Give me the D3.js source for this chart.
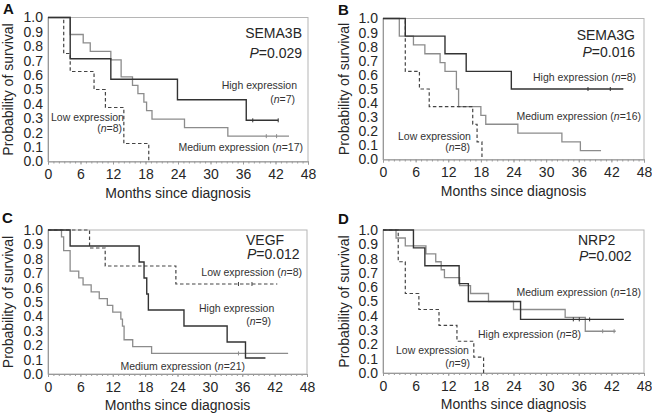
<!DOCTYPE html>
<html><head><meta charset="utf-8">
<script src="https://cdn.jsdelivr.net/npm/d3@7"></script>
<style>
body{margin:0;background:#fff;}
svg{font-family:"Liberation Sans",Arial,Helvetica,sans-serif;}
</style></head>
<body>
<script>
// ---- data ----
const monthTicks = [0,6,12,18,24,30,36,42,48];
const survTicks = [0,0.1,0.2,0.3,0.4,0.5,0.6,0.7,0.8,0.9,1.0];

// Panel A: SEMA3B
const aHighT = [0,4.1,11.6,23.9,36.6], aHighS = [1,0.714,0.571,0.429,0.286], aHighEnd = 42.5, aHighCens = [37.8,42.5];
const aMedT = [0,4.1,6.5,7.8,11.6,13.5,15.6,16.6,17.7,18.2,19.2,25.2,33.2], aMedS = [1,0.882,0.824,0.765,0.706,0.588,0.529,0.471,0.412,0.353,0.294,0.235,0.176], aMedEnd = 44.5, aMedCens = [40.3,42.2];
const aLowT = [0,2.9,4.1,8.5,10.6,14.0,18.6], aLowS = [1,0.75,0.625,0.5,0.375,0.125,0], aLowEnd = 18.6, aLowCens = [];

// Panel B: SEMA3G
const bHighT = [0,4.1,11.4,15.3,23.6], bHighS = [1,0.875,0.75,0.625,0.5], bHighEnd = 44.2, bHighCens = [37.7,41.8];
const bMedT = [0,3.0,5.6,7.7,10.5,11.4,13.5,13.9,18.0,18.9,24.8,32.9,36.3], bMedS = [1,0.875,0.8125,0.75,0.6875,0.625,0.5,0.375,0.3125,0.25,0.1875,0.125,0.0625], bMedEnd = 40.1, bMedCens = [];
const bLowT = [0,4.1,6.7,8.5,16.5,17.3,18.2], bLowS = [1,0.625,0.5,0.375,0.25,0.125,0], bLowEnd = 18.2, bLowCens = [];

// Panel C: VEGF
const cHighT = [0,4.1,16.9,17.8,18.3,18.6,25.2,33.2,36.6], cHighS = [1,0.889,0.778,0.667,0.556,0.444,0.333,0.222,0.111], cHighEnd = 40.3, cHighCens = [];
const cMedT = [0,2.5,2.9,4.1,5.7,6.5,8.0,9.5,11.0,12.0,13.5,13.8,14.1,15.7,19.2], cMedS = [1,0.952,0.857,0.714,0.667,0.619,0.571,0.524,0.476,0.429,0.381,0.333,0.238,0.190,0.143], cMedEnd = 44.5, cMedCens = [35.3,36.6];
const cLowT = [0,7.7,10.6,23.7], cLowS = [1,0.875,0.75,0.625], cLowEnd = 42.5, cLowCens = [35.3,37.8];

// Panel D: NRP2
const dHighT = [0,5.6,7.7,14.0,15.7,25.3], dHighS = [1,0.875,0.75,0.625,0.5,0.375], dHighEnd = 44.3, dHighCens = [35.0,36.1,38.0];
const dMedT = [0,2.4,4.1,7.9,9.7,10.7,11.3,14.1,16.1,19.4,24.0,33.5,37.2], dMedS = [1,0.944,0.889,0.833,0.778,0.722,0.667,0.611,0.556,0.5,0.444,0.389,0.292], dMedEnd = 42.8, dMedCens = [40.4,42.5];
const dLowT = [0,2.8,4.1,6.6,10.3,13.6,16.7,18.5], dLowS = [1,0.778,0.556,0.444,0.333,0.222,0.111,0], dLowEnd = 18.5, dLowCens = [];

// ---- layout / styles ----
const W = 652, H = 418;
const styles = {
  high: {stroke:"#333", dash:null, width:1.4},
  med:  {stroke:"#8c8c8c", dash:null, width:1.3},
  low:  {stroke:"#444", dash:"3.5,2.5", width:1.2}
};
function ser(kind,T,S,end,cens){return {kind,T,S,end,cens};}

const panels = [
 {letter:"A", lx:3, ly:14, x0:48, x1:308, yT:17.5, yB:161.5, ytx:8,
  series:[ser("med",aMedT,aMedS,aMedEnd,aMedCens), ser("low",aLowT,aLowS,aLowEnd,aLowCens), ser("high",aHighT,aHighS,aHighEnd,aHighCens)],
  labels:[
   {parts:[["SEMA3B"]], x:302, y:38, a:"end", big:true},
   {parts:[["P",1],["=0.029"]], x:302, y:58, a:"end", big:true},
   {parts:[["High expression"]], x:297, y:89, a:"end"},
   {parts:[["("],["n",1],["=7)"]], x:295, y:103, a:"end"},
   {parts:[["Low expression"]], x:51, y:121, a:"start"},
   {parts:[["("],["n",1],["=8)"]], x:122, y:132, a:"end"},
   {parts:[["Medium expression ("],["n",1],["=17)"]], x:303, y:151, a:"end"}
  ]},
 {letter:"B", lx:338, ly:15, x0:383, x1:644, yT:18.5, yB:159.5, ytx:344,
  series:[ser("med",bMedT,bMedS,bMedEnd,bMedCens), ser("low",bLowT,bLowS,bLowEnd,bLowCens), ser("high",bHighT,bHighS,bHighEnd,bHighCens)],
  labels:[
   {parts:[["SEMA3G"]], x:635, y:40, a:"end", big:true},
   {parts:[["P",1],["=0.016"]], x:635, y:57, a:"end", big:true},
   {parts:[["High expression ("],["n",1],["=8)"]], x:636, y:81, a:"end"},
   {parts:[["Medium expression ("],["n",1],["=16)"]], x:641, y:120, a:"end"},
   {parts:[["Low expression"]], x:398, y:140, a:"start"},
   {parts:[["("],["n",1],["=8)"]], x:470, y:151, a:"end"}
  ]},
 {letter:"C", lx:2, ly:223, x0:48, x1:307, yT:230, yB:374, ytx:8,
  series:[ser("med",cMedT,cMedS,cMedEnd,cMedCens), ser("low",cLowT,cLowS,cLowEnd,cLowCens), ser("high",cHighT,cHighS,cHighEnd,cHighCens)],
  labels:[
   {parts:[["VEGF"]], x:246, y:245, a:"start", big:true},
   {parts:[["P",1],["=0.012"]], x:247, y:259, a:"start", big:true},
   {parts:[["Low expression ("],["n",1],["=8)"]], x:302, y:276, a:"end"},
   {parts:[["High expression"]], x:199, y:312, a:"start"},
   {parts:[["("],["n",1],["=9)"]], x:271, y:325, a:"end"},
   {parts:[["Medium expression ("],["n",1],["=21)"]], x:245, y:370, a:"end"}
  ]},
 {letter:"D", lx:338, ly:224, x0:383, x1:644, yT:230, yB:373, ytx:344,
  series:[ser("med",dMedT,dMedS,dMedEnd,dMedCens), ser("low",dLowT,dLowS,dLowEnd,dLowCens), ser("high",dHighT,dHighS,dHighEnd,dHighCens)],
  labels:[
   {parts:[["NRP2"]], x:578, y:245, a:"start", big:true},
   {parts:[["P",1],["=0.002"]], x:579, y:261, a:"start", big:true},
   {parts:[["Medium expression ("],["n",1],["=18)"]], x:641, y:296, a:"end"},
   {parts:[["High expression ("],["n",1],["=8)"]], x:581, y:338, a:"end"},
   {parts:[["Low expression"]], x:396, y:354, a:"start"},
   {parts:[["("],["n",1],["=9)"]], x:470, y:367, a:"end"}
  ]}
];

const svg = d3.select("body").append("svg").attr("width",W).attr("height",H);
const TXT = "#262626";

panels.forEach(p=>{
  const g = svg.append("g");
  const x = d3.scaleLinear().domain([0,48]).range([p.x0,p.x1]);
  const y = d3.scaleLinear().domain([0,1]).range([p.yB,p.yT]);

  // frame
  g.append("rect").attr("x",p.x0).attr("y",p.yT).attr("width",p.x1-p.x0).attr("height",p.yB-p.yT)
    .attr("fill","none").attr("stroke","#b5b5b5").attr("stroke-width",1);

  // minor ticks on bottom axis
  const xm = d3.axisBottom(x).tickValues(d3.range(0,49,1)).tickSize(2).tickFormat("");
  const gm = g.append("g").attr("transform",`translate(0,${p.yB})`).call(xm);
  gm.select(".domain").remove();
  gm.selectAll("text").remove();
  gm.selectAll("line").attr("stroke","#999");

  const xa = d3.axisBottom(x).tickValues(monthTicks).tickSize(3).tickPadding(5).tickFormat(d3.format("d"));
  const gx = g.append("g").attr("transform",`translate(0,${p.yB})`).call(xa);
  gx.select(".domain").attr("stroke","#999");
  gx.selectAll("line").attr("stroke","#999");
  gx.selectAll("text").attr("font-size",14).attr("fill",TXT).attr("font-family","Liberation Sans, Arial, sans-serif");

  const ya = d3.axisLeft(y).tickValues(survTicks).tickSize(0).tickPadding(5).tickFormat(d3.format(".1f"));
  const gy = g.append("g").attr("transform",`translate(${p.x0},0)`).call(ya);
  gy.select(".domain").attr("stroke","#999");
  gy.selectAll("text").attr("font-size",14).attr("fill",TXT).attr("font-family","Liberation Sans, Arial, sans-serif");

  // axis titles
  g.append("text").attr("x",(p.x0+p.x1)/2).attr("y",p.yB+36).attr("text-anchor","middle")
    .attr("font-size",14).attr("fill",TXT).text("Months since diagnosis");
  g.append("text").attr("transform",`translate(${p.ytx+5},${(p.yT+p.yB)/2}) rotate(-90)`).attr("text-anchor","middle")
    .attr("font-size",14).attr("fill",TXT).text("Probability of survival");

  // panel letter
  g.append("text").attr("x",p.lx).attr("y",p.ly).attr("font-size",15).attr("font-weight","bold").attr("fill","#111").text(p.letter);

  // curves
  const line = d3.line().x(d=>x(d[0])).y(d=>y(d[1])).curve(d3.curveStepAfter);
  p.series.forEach(s=>{
    const st = styles[s.kind];
    const pts = s.T.map((t,i)=>[t,s.S[i]]);
    const last = s.S[s.S.length-1];
    if (s.end > s.T[s.T.length-1]) pts.push([s.end,last]);
    g.append("path").datum(pts).attr("d",line).attr("fill","none")
      .attr("stroke",st.stroke).attr("stroke-width",st.width)
      .attr("stroke-dasharray",st.dash);
    g.selectAll(null).data(s.cens).enter().append("line")
      .attr("x1",d=>x(d)).attr("x2",d=>x(d)).attr("y1",y(last)-2).attr("y2",y(last)+2)
      .attr("stroke",st.stroke).attr("stroke-width",1);
  });

  // labels: each part is its own text element, placed side by side
  p.labels.forEach(l=>{
    const fs = l.big?14:10.5;
    const nodes = l.parts.map(pt => g.append("text").attr("y",l.y).attr("font-size",fs)
      .attr("font-style",pt[1]?"italic":null).attr("fill",l.big?TXT:"#333").text(pt[0]));
    const widths = nodes.map(n=>n.node().getComputedTextLength());
    const total = d3.sum(widths);
    let cx = l.a==="end" ? l.x-total : l.x;
    nodes.forEach((n,i)=>{ n.attr("x",cx); cx += widths[i]; });
  });
});
</script>
</body></html>
